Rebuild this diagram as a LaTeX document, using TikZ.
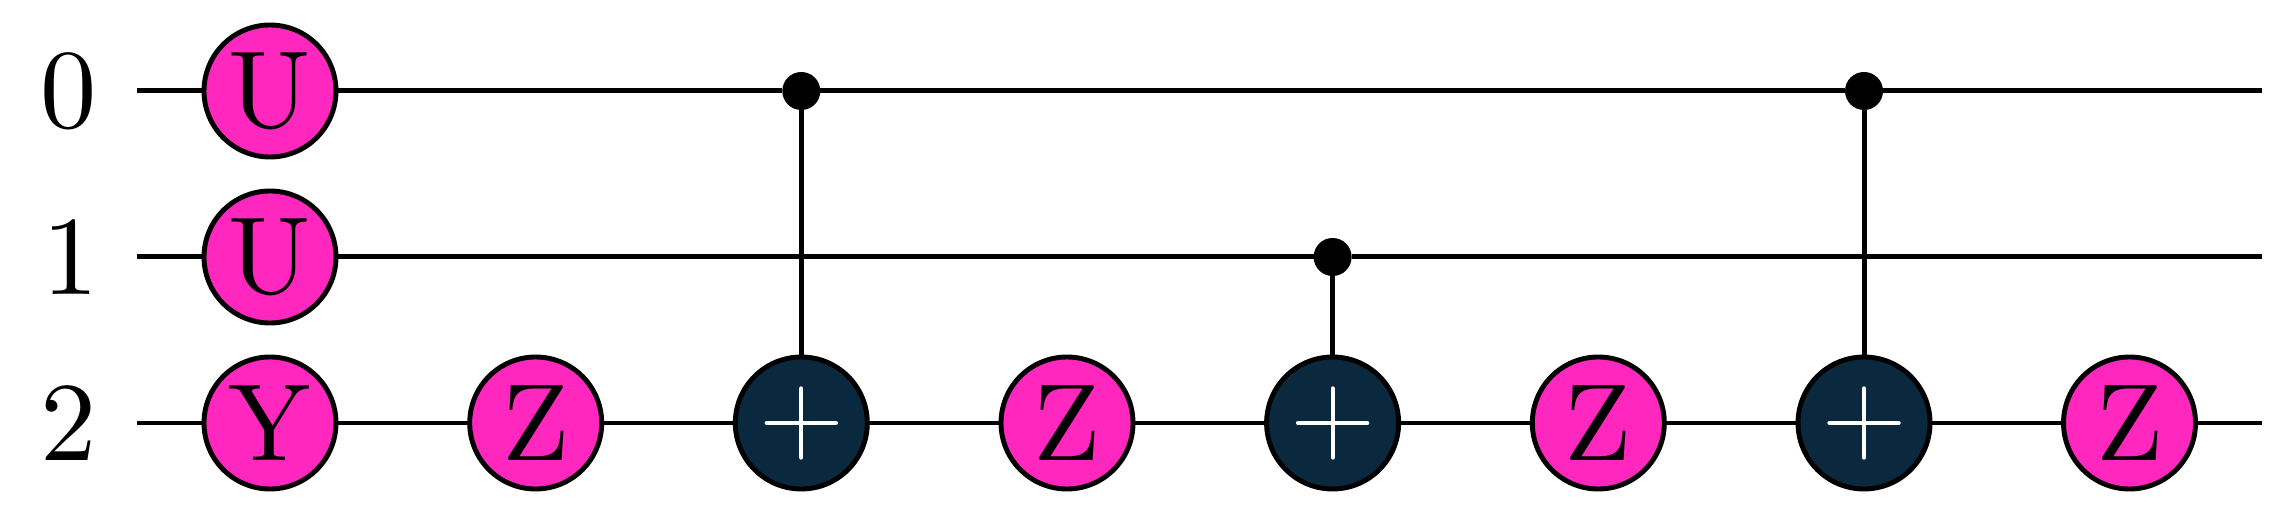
\documentclass[tikz,border=0pt]{standalone}
\usepackage{tikz}

\definecolor{gatepink}{RGB}{255,39,190}
\definecolor{gatenavy}{RGB}{10,40,62}

\tikzset{
  wire/.style={line width=1.42pt},
  qlabel/.style={scale=3.2,font=\fontsize{10}{12}\selectfont},
  gate/.style={circle,draw,line width=1.4pt,fill=gatepink,minimum size=0.4231cm,inner sep=0pt,outer sep=0pt,scale=3.12,font=\fontsize{10}{12}\selectfont},
  target/.style={circle,draw,line width=1.4pt,fill=gatenavy,minimum size=1.32cm,inner sep=0pt,outer sep=0pt,
    path picture={
      \draw [white,line width=1.13pt,line cap=round] (path picture bounding box.center) ++(-0.347,0) -- ++(0.694,0);
      \draw [white,line width=1.13pt,line cap=round] (path picture bounding box.center) ++(0,-0.347) -- ++(0,0.694);
    }},
  ctrl/.style={circle,fill=black,minimum size=0.38cm,inner sep=0pt,outer sep=0pt}
}

\begin{document}
\begin{tikzpicture}

\useasboundingbox (0,0) rectangle (22.70,5.14);

\node [qlabel] (label0) at (0.69,4.23) {0};
\node [qlabel] (label1) at (0.71,2.57) {1};
\node [qlabel] (label2) at (0.69,0.91) {2};

\coordinate (start0) at (1.367,4.23);
\coordinate (start1) at (1.367,2.57);
\coordinate (start2) at (1.367,0.91);
\coordinate (end0) at (22.62,4.23);
\coordinate (end1) at (22.62,2.57);
\coordinate (end2) at (22.62,0.91);

\node [gate] (u0) at (2.70,4.23) {U};
\node [gate] (u1) at (2.70,2.57) {U};
\node [gate] (y2) at (2.70,0.91) {Y};
\node [gate] (z1) at (5.357,0.91) {Z};
\node [ctrl] (c1) at (8.013,4.23) {};
\node [target] (x1) at (8.013,0.91) {};
\node [gate] (z2) at (10.67,0.91) {Z};
\node [ctrl] (c2) at (13.326,2.57) {};
\node [target] (x2) at (13.326,0.91) {};
\node [gate] (z3) at (15.983,0.91) {Z};
\node [ctrl] (c3) at (18.64,4.23) {};
\node [target] (x3) at (18.64,0.91) {};
\node [gate] (z4) at (21.295,0.91) {Z};

\draw [wire] (start0) -- (u0) -- (c1) -- (c3) -- (end0);
\draw [wire] (start1) -- (u1) -- (c2) -- (end1);
\draw [wire] (start2) -- (y2) -- (z1) -- (x1) -- (z2) -- (x2) -- (z3) -- (x3) -- (z4) -- (end2);

\draw [wire] (c1) -- (x1);
\draw [wire] (c2) -- (x2);
\draw [wire] (c3) -- (x3);

\end{tikzpicture}
\end{document}
